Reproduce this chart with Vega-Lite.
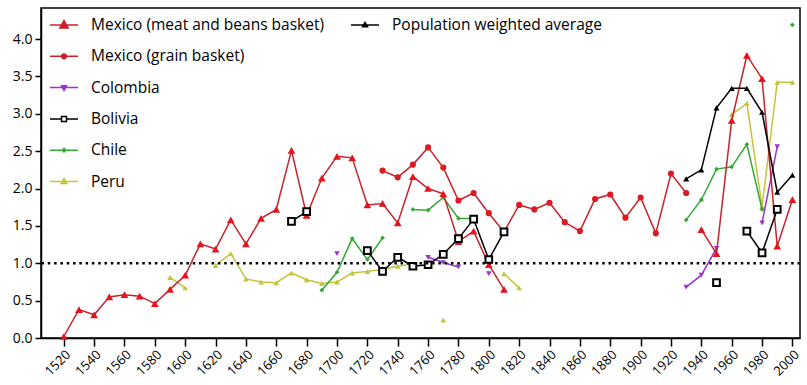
{
  "$schema": "https://vega.github.io/schema/vega-lite/v6.json",
  "width": 759,
  "height": 330,
  "autosize": {"type": "none"},
  "padding": {"left": 41, "top": 8, "right": 7, "bottom": 47},
  "config": {
    "view": {"stroke": "black", "strokeWidth": 1.5},
    "font": "Open Sans",
    "axis": {"grid": false, "domainColor": "black", "tickColor": "black", "labelColor": "black", "labelFont": "Open Sans", "domainWidth": 1.5, "tickWidth": 1.5, "labelFlush": false, "labelBound": false}
  },
  "datasets": {
    "mexmeat": [
      {"year": 1520, "v": 0.02, "seg": 1}, {"year": 1530, "v": 0.38, "seg": 1}, {"year": 1540, "v": 0.31, "seg": 1},
      {"year": 1550, "v": 0.55, "seg": 1}, {"year": 1560, "v": 0.58, "seg": 1}, {"year": 1570, "v": 0.56, "seg": 1},
      {"year": 1580, "v": 0.46, "seg": 1}, {"year": 1590, "v": 0.65, "seg": 1}, {"year": 1600, "v": 0.84, "seg": 1},
      {"year": 1610, "v": 1.26, "seg": 1}, {"year": 1620, "v": 1.19, "seg": 1}, {"year": 1630, "v": 1.58, "seg": 1},
      {"year": 1640, "v": 1.26, "seg": 1}, {"year": 1650, "v": 1.60, "seg": 1}, {"year": 1660, "v": 1.72, "seg": 1},
      {"year": 1670, "v": 2.51, "seg": 1}, {"year": 1680, "v": 1.64, "seg": 1}, {"year": 1690, "v": 2.14, "seg": 1},
      {"year": 1700, "v": 2.43, "seg": 1}, {"year": 1710, "v": 2.41, "seg": 1}, {"year": 1720, "v": 1.78, "seg": 1},
      {"year": 1730, "v": 1.80, "seg": 1}, {"year": 1740, "v": 1.54, "seg": 1}, {"year": 1750, "v": 2.16, "seg": 1},
      {"year": 1760, "v": 2.00, "seg": 1}, {"year": 1770, "v": 1.93, "seg": 1}, {"year": 1780, "v": 1.29, "seg": 1},
      {"year": 1790, "v": 1.43, "seg": 1}, {"year": 1800, "v": 0.98, "seg": 1}, {"year": 1810, "v": 0.65, "seg": 1},
      {"year": 1940, "v": 1.45, "seg": 2}, {"year": 1950, "v": 1.13, "seg": 2}, {"year": 1960, "v": 2.91, "seg": 2},
      {"year": 1970, "v": 3.78, "seg": 2}, {"year": 1980, "v": 3.47, "seg": 2}, {"year": 1990, "v": 1.23, "seg": 2},
      {"year": 2000, "v": 1.85, "seg": 2}
    ],
    "mexgrain": [
      {"year": 1730, "v": 2.24, "seg": 1}, {"year": 1740, "v": 2.15, "seg": 1}, {"year": 1750, "v": 2.32, "seg": 1},
      {"year": 1760, "v": 2.55, "seg": 1}, {"year": 1770, "v": 2.28, "seg": 1}, {"year": 1780, "v": 1.84, "seg": 1},
      {"year": 1790, "v": 1.94, "seg": 1}, {"year": 1800, "v": 1.67, "seg": 1}, {"year": 1810, "v": 1.42, "seg": 1},
      {"year": 1820, "v": 1.78, "seg": 1}, {"year": 1830, "v": 1.72, "seg": 1}, {"year": 1840, "v": 1.81, "seg": 1},
      {"year": 1850, "v": 1.55, "seg": 1}, {"year": 1860, "v": 1.43, "seg": 1}, {"year": 1870, "v": 1.86, "seg": 1},
      {"year": 1880, "v": 1.92, "seg": 1}, {"year": 1890, "v": 1.61, "seg": 1}, {"year": 1900, "v": 1.88, "seg": 1},
      {"year": 1910, "v": 1.40, "seg": 1}, {"year": 1920, "v": 2.20, "seg": 1}, {"year": 1930, "v": 1.94, "seg": 1}
    ],
    "colombia": [
      {"year": 1700, "v": 1.13, "seg": 1},
      {"year": 1760, "v": 1.08, "seg": 2}, {"year": 1770, "v": 1.01, "seg": 2}, {"year": 1780, "v": 0.95, "seg": 2},
      {"year": 1800, "v": 0.86, "seg": 3},
      {"year": 1930, "v": 0.68, "seg": 4}, {"year": 1940, "v": 0.84, "seg": 4}, {"year": 1950, "v": 1.20, "seg": 4},
      {"year": 1980, "v": 1.54, "seg": 5}, {"year": 1990, "v": 2.56, "seg": 5}
    ],
    "bolivia": [
      {"year": 1670, "v": 1.56, "seg": 1}, {"year": 1680, "v": 1.69, "seg": 1},
      {"year": 1720, "v": 1.17, "seg": 2}, {"year": 1730, "v": 0.89, "seg": 2}, {"year": 1740, "v": 1.08, "seg": 2},
      {"year": 1750, "v": 0.96, "seg": 2}, {"year": 1760, "v": 0.98, "seg": 2}, {"year": 1770, "v": 1.12, "seg": 2},
      {"year": 1780, "v": 1.33, "seg": 2}, {"year": 1790, "v": 1.59, "seg": 2}, {"year": 1800, "v": 1.05, "seg": 2},
      {"year": 1810, "v": 1.42, "seg": 2},
      {"year": 1950, "v": 0.74, "seg": 3},
      {"year": 1970, "v": 1.43, "seg": 4}, {"year": 1980, "v": 1.14, "seg": 4}, {"year": 1990, "v": 1.72, "seg": 4}
    ],
    "chile": [
      {"year": 1690, "v": 0.64, "seg": 1}, {"year": 1700, "v": 0.88, "seg": 1}, {"year": 1710, "v": 1.33, "seg": 1},
      {"year": 1720, "v": 1.05, "seg": 1}, {"year": 1730, "v": 1.34, "seg": 1},
      {"year": 1750, "v": 1.72, "seg": 2}, {"year": 1760, "v": 1.71, "seg": 2}, {"year": 1770, "v": 1.88, "seg": 2},
      {"year": 1780, "v": 1.60, "seg": 2}, {"year": 1790, "v": 1.60, "seg": 2},
      {"year": 1930, "v": 1.58, "seg": 3}, {"year": 1940, "v": 1.85, "seg": 3}, {"year": 1950, "v": 2.26, "seg": 3},
      {"year": 1960, "v": 2.29, "seg": 3}, {"year": 1970, "v": 2.59, "seg": 3}, {"year": 1980, "v": 1.72, "seg": 3},
      {"year": 2000, "v": 4.19, "seg": 4}
    ],
    "peru": [
      {"year": 1590, "v": 0.81, "seg": 1}, {"year": 1600, "v": 0.67, "seg": 1},
      {"year": 1620, "v": 0.97, "seg": 2}, {"year": 1630, "v": 1.13, "seg": 2}, {"year": 1640, "v": 0.79, "seg": 2},
      {"year": 1650, "v": 0.75, "seg": 2}, {"year": 1660, "v": 0.74, "seg": 2}, {"year": 1670, "v": 0.87, "seg": 2},
      {"year": 1680, "v": 0.78, "seg": 2}, {"year": 1690, "v": 0.73, "seg": 2}, {"year": 1700, "v": 0.75, "seg": 2},
      {"year": 1710, "v": 0.87, "seg": 2}, {"year": 1720, "v": 0.89, "seg": 2}, {"year": 1730, "v": 0.92, "seg": 2},
      {"year": 1740, "v": 0.96, "seg": 2}, {"year": 1750, "v": 0.99, "seg": 2},
      {"year": 1770, "v": 0.24, "seg": 3},
      {"year": 1810, "v": 0.86, "seg": 4}, {"year": 1820, "v": 0.67, "seg": 4},
      {"year": 1940, "v": 1.86, "seg": 5},
      {"year": 1960, "v": 2.99, "seg": 6}, {"year": 1970, "v": 3.14, "seg": 6}, {"year": 1980, "v": 1.76, "seg": 6},
      {"year": 1990, "v": 3.42, "seg": 6}, {"year": 2000, "v": 3.42, "seg": 6}
    ],
    "pop": [
      {"year": 1930, "v": 2.13, "seg": 1}, {"year": 1940, "v": 2.25, "seg": 1}, {"year": 1950, "v": 3.08, "seg": 1},
      {"year": 1960, "v": 3.34, "seg": 1}, {"year": 1970, "v": 3.34, "seg": 1}, {"year": 1980, "v": 3.02, "seg": 1},
      {"year": 1990, "v": 1.95, "seg": 1}, {"year": 2000, "v": 2.18, "seg": 1}
    ],
    "legA": [
      {"series": "Mexico (meat and beans basket)"}, {"series": "Mexico (grain basket)"}, {"series": "Colombia"},
      {"series": "Bolivia"}, {"series": "Chile"}, {"series": "Peru"}
    ],
    "legB": [
      {"series": "Population weighted average"}
    ]
  },
  "layer": [
    {
      "data": {"name": "peru"},
      "mark": {"type": "line", "color": "#c4c43a", "strokeWidth": 1.5},
      "encoding": {
        "x": {"field": "year", "type": "quantitative", "scale": {"domain": [1505, 2005], "nice": false, "zero": false}, "title": null,
              "axis": {"values": [1520,1540,1560,1580,1600,1620,1640,1660,1680,1700,1720,1740,1760,1780,1800,1820,1840,1860,1880,1900,1920,1940,1960,1980,2000], "tickCount": 40, "format": "d", "labelAngle": -45, "labelFontSize": 13, "tickSize": 8, "labelPadding": 2, "labelOverlap": false, "title": null}},
        "y": {"field": "v", "type": "quantitative", "scale": {"domain": [0, 4.415], "nice": false}, "title": null,
              "axis": {"values": [0,0.5,1,1.5,2,2.5,3,3.5,4], "tickCount": 20, "format": ".1f", "labelFontSize": 14, "tickSize": 6, "labelPadding": 3, "labelOverlap": false, "title": null}},
        "detail": {"field": "seg", "type": "nominal"}
      }
    },
    {
      "data": {"name": "peru"},
      "mark": {"type": "point", "shape": "triangle-up", "filled": true, "color": "#c4c43a", "size": 32, "opacity": 1},
      "encoding": {
        "x": {"field": "year", "type": "quantitative", "scale": {"domain": [1505, 2005], "nice": false, "zero": false}, "title": null},
        "y": {"field": "v", "type": "quantitative", "scale": {"domain": [0, 4.415], "nice": false}, "title": null}
      }
    },
    {
      "data": {"name": "chile"},
      "mark": {"type": "line", "color": "#33a833", "strokeWidth": 1.5},
      "encoding": {
        "x": {"field": "year", "type": "quantitative", "scale": {"domain": [1505, 2005], "nice": false, "zero": false}, "title": null},
        "y": {"field": "v", "type": "quantitative", "scale": {"domain": [0, 4.415], "nice": false}, "title": null},
        "detail": {"field": "seg", "type": "nominal"}
      }
    },
    {
      "data": {"name": "chile"},
      "mark": {"type": "point", "shape": "diamond", "filled": true, "color": "#33a833", "size": 22, "opacity": 1},
      "encoding": {
        "x": {"field": "year", "type": "quantitative", "scale": {"domain": [1505, 2005], "nice": false, "zero": false}, "title": null},
        "y": {"field": "v", "type": "quantitative", "scale": {"domain": [0, 4.415], "nice": false}, "title": null}
      }
    },
    {
      "data": {"name": "colombia"},
      "mark": {"type": "line", "color": "#9a33cc", "strokeWidth": 1.5},
      "encoding": {
        "x": {"field": "year", "type": "quantitative", "scale": {"domain": [1505, 2005], "nice": false, "zero": false}, "title": null},
        "y": {"field": "v", "type": "quantitative", "scale": {"domain": [0, 4.415], "nice": false}, "title": null},
        "detail": {"field": "seg", "type": "nominal"}
      }
    },
    {
      "data": {"name": "colombia"},
      "mark": {"type": "point", "shape": "triangle-down", "filled": true, "color": "#9a33cc", "size": 30, "opacity": 1},
      "encoding": {
        "x": {"field": "year", "type": "quantitative", "scale": {"domain": [1505, 2005], "nice": false, "zero": false}, "title": null},
        "y": {"field": "v", "type": "quantitative", "scale": {"domain": [0, 4.415], "nice": false}, "title": null}
      }
    },
    {
      "data": {"name": "mexgrain"},
      "mark": {"type": "line", "color": "#c8232b", "strokeWidth": 1.5},
      "encoding": {
        "x": {"field": "year", "type": "quantitative", "scale": {"domain": [1505, 2005], "nice": false, "zero": false}, "title": null},
        "y": {"field": "v", "type": "quantitative", "scale": {"domain": [0, 4.415], "nice": false}, "title": null},
        "detail": {"field": "seg", "type": "nominal"}
      }
    },
    {
      "data": {"name": "mexgrain"},
      "mark": {"type": "point", "shape": "circle", "filled": true, "color": "#dd1a22", "size": 38, "opacity": 1},
      "encoding": {
        "x": {"field": "year", "type": "quantitative", "scale": {"domain": [1505, 2005], "nice": false, "zero": false}, "title": null},
        "y": {"field": "v", "type": "quantitative", "scale": {"domain": [0, 4.415], "nice": false}, "title": null}
      }
    },
    {
      "data": {"name": "mexmeat"},
      "mark": {"type": "line", "color": "#c8232b", "strokeWidth": 1.5},
      "encoding": {
        "x": {"field": "year", "type": "quantitative", "scale": {"domain": [1505, 2005], "nice": false, "zero": false}, "title": null},
        "y": {"field": "v", "type": "quantitative", "scale": {"domain": [0, 4.415], "nice": false}, "title": null},
        "detail": {"field": "seg", "type": "nominal"}
      }
    },
    {
      "data": {"name": "mexmeat"},
      "mark": {"type": "point", "shape": "triangle-up", "filled": true, "color": "#e3141c", "size": 60, "opacity": 1},
      "encoding": {
        "x": {"field": "year", "type": "quantitative", "scale": {"domain": [1505, 2005], "nice": false, "zero": false}, "title": null},
        "y": {"field": "v", "type": "quantitative", "scale": {"domain": [0, 4.415], "nice": false}, "title": null}
      }
    },
    {
      "data": {"name": "bolivia"},
      "mark": {"type": "line", "color": "black", "strokeWidth": 1.5},
      "encoding": {
        "x": {"field": "year", "type": "quantitative", "scale": {"domain": [1505, 2005], "nice": false, "zero": false}, "title": null},
        "y": {"field": "v", "type": "quantitative", "scale": {"domain": [0, 4.415], "nice": false}, "title": null},
        "detail": {"field": "seg", "type": "nominal"}
      }
    },
    {
      "data": {"name": "bolivia"},
      "mark": {"type": "point", "shape": "square", "filled": true, "fill": "white", "stroke": "black", "strokeWidth": 2, "size": 45, "opacity": 1},
      "encoding": {
        "x": {"field": "year", "type": "quantitative", "scale": {"domain": [1505, 2005], "nice": false, "zero": false}, "title": null},
        "y": {"field": "v", "type": "quantitative", "scale": {"domain": [0, 4.415], "nice": false}, "title": null}
      }
    },
    {
      "data": {"name": "pop"},
      "mark": {"type": "line", "color": "black", "strokeWidth": 1.5},
      "encoding": {
        "x": {"field": "year", "type": "quantitative", "scale": {"domain": [1505, 2005], "nice": false, "zero": false}, "title": null},
        "y": {"field": "v", "type": "quantitative", "scale": {"domain": [0, 4.415], "nice": false}, "title": null},
        "detail": {"field": "seg", "type": "nominal"}
      }
    },
    {
      "data": {"name": "pop"},
      "mark": {"type": "point", "shape": "triangle-up", "filled": true, "color": "black", "size": 36, "opacity": 1},
      "encoding": {
        "x": {"field": "year", "type": "quantitative", "scale": {"domain": [1505, 2005], "nice": false, "zero": false}, "title": null},
        "y": {"field": "v", "type": "quantitative", "scale": {"domain": [0, 4.415], "nice": false}, "title": null}
      }
    },
    {
      "data": {"values": [{}]},
      "mark": {"type": "rule", "color": "black", "strokeWidth": 2.5, "strokeDash": [2.5, 3.8]},
      "encoding": {
        "y": {"datum": 1, "type": "quantitative", "scale": {"domain": [0, 4.415], "nice": false}}
      }
    },
    {
      "data": {"name": "legA"},
      "mark": {"type": "point", "filled": false, "opacity": 0, "size": 784},
      "encoding": {
        "stroke": {"field": "series", "type": "nominal",
          "scale": {"domain": ["Mexico (meat and beans basket)", "Mexico (grain basket)", "Colombia", "Bolivia", "Chile", "Peru"],
                    "range": ["#c8232b", "#c8232b", "#9a33cc", "black", "#33a833", "#c4c43a"]},
          "legend": {"title": null, "orient": "none", "legendX": 8, "legendY": 2, "symbolSize": 784, "symbolStrokeWidth": 1.5, "symbolOpacity": 1, "labelFontSize": 15.5, "labelFont": "Open Sans", "labelColor": "black", "labelOffset": 12, "rowPadding": 7.3, "labelLimit": 400, "padding": 0}},
        "fill": {"field": "series", "type": "nominal",
          "scale": {"domain": ["Mexico (meat and beans basket)", "Mexico (grain basket)", "Colombia", "Bolivia", "Chile", "Peru"],
                    "range": ["#e3141c", "#dd1a22", "#9a33cc", "white", "#33a833", "#c4c43a"]},
          "legend": {"title": null, "orient": "none", "legendX": 8, "legendY": 2, "symbolSize": 784, "symbolStrokeWidth": 1.5, "symbolOpacity": 1, "labelFontSize": 15.5, "labelFont": "Open Sans", "labelColor": "black", "labelOffset": 12, "rowPadding": 7.3, "labelLimit": 400, "padding": 0}},
        "shape": {"field": "series", "type": "nominal",
          "scale": {"domain": ["Mexico (meat and beans basket)", "Mexico (grain basket)", "Colombia", "Bolivia", "Chile", "Peru"],
                    "range": [
                      "M-1,0H1M0,-0.32L0.3,0.22L-0.3,0.22Z",
                      "M-1,0H1M0.17,0A0.17,0.17 0 1,1 -0.17,0A0.17,0.17 0 1,1 0.17,0Z",
                      "M-1,0H1M-0.18,-0.14H0.18L0,0.2Z",
                      "M-1,0H-0.18M0.18,0H1M-0.18,-0.18H0.18V0.18H-0.18Z",
                      "M-1,0H1M0,-0.13L0.13,0L0,0.13L-0.13,0Z",
                      "M-1,0H1M0,-0.2L0.2,0.14L-0.2,0.14Z"
                    ]},
          "legend": {"title": null, "orient": "none", "legendX": 8, "legendY": 2, "symbolSize": 784, "symbolStrokeWidth": 1.5, "symbolOpacity": 1, "labelFontSize": 15.5, "labelFont": "Open Sans", "labelColor": "black", "labelOffset": 12, "rowPadding": 7.3, "labelLimit": 400, "padding": 0}}
      }
    },
    {
      "data": {"name": "legB"},
      "mark": {"type": "point", "filled": false, "opacity": 0, "size": 784},
      "encoding": {
        "stroke": {"field": "series", "type": "nominal",
          "scale": {"domain": ["Population weighted average"], "range": ["black"]},
          "legend": {"title": null, "orient": "none", "legendX": 309, "legendY": 2, "symbolSize": 784, "symbolStrokeWidth": 1.5, "symbolOpacity": 1, "labelFontSize": 15.5, "labelFont": "Open Sans", "labelColor": "black", "labelOffset": 12, "rowPadding": 7.3, "labelLimit": 400, "padding": 0}},
        "fill": {"field": "series", "type": "nominal",
          "scale": {"domain": ["Population weighted average"], "range": ["black"]},
          "legend": {"title": null, "orient": "none", "legendX": 309, "legendY": 2, "symbolSize": 784, "symbolStrokeWidth": 1.5, "symbolOpacity": 1, "labelFontSize": 15.5, "labelFont": "Open Sans", "labelColor": "black", "labelOffset": 12, "rowPadding": 7.3, "labelLimit": 400, "padding": 0}},
        "shape": {"field": "series", "type": "nominal",
          "scale": {"domain": ["Population weighted average"], "range": ["M-1,0H1M0,-0.18L0.18,0.13L-0.18,0.13Z"]},
          "legend": {"title": null, "orient": "none", "legendX": 309, "legendY": 2, "symbolSize": 784, "symbolStrokeWidth": 1.5, "symbolOpacity": 1, "labelFontSize": 15.5, "labelFont": "Open Sans", "labelColor": "black", "labelOffset": 12, "rowPadding": 7.3, "labelLimit": 400, "padding": 0}}
      }
    }
  ],
  "resolve": {"scale": {"stroke": "independent", "fill": "independent", "shape": "independent"}}
}
